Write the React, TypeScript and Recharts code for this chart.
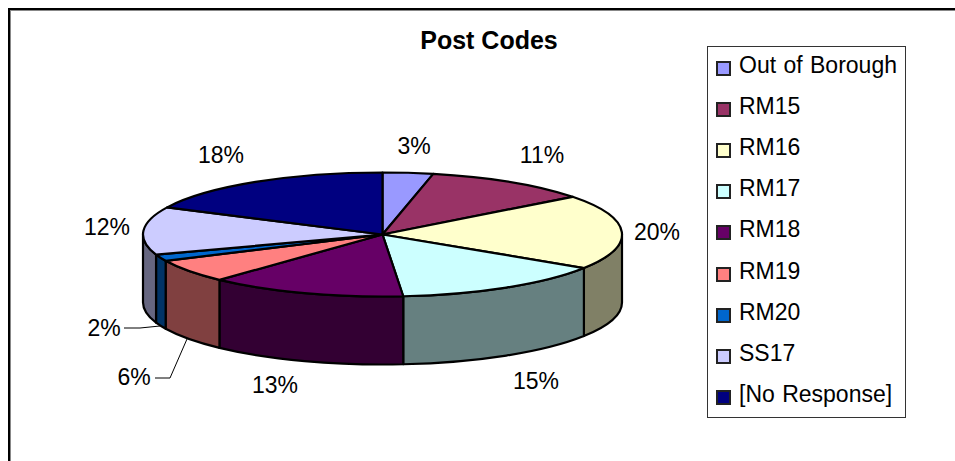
import React from 'react';
import { PieChart, Pie, Legend } from 'recharts';

const names = ['Out of Borough', 'RM15', 'RM16', 'RM17', 'RM18', 'RM19', 'RM20', 'SS17', '[No Response]'];
const values = [3.4, 11.2, 19.5, 14.52, 13.3, 6.1, 1.7, 12.49, 17.79];
const colors = ['#9999FF', '#993366', '#FFFFCC', '#CCFFFF', '#660066', '#FF8080', '#0066CC', '#CCCCFF', '#000080'];

// label anchor points, placed by hand like the original
const labelX = [414, 542, 657, 536, 275, 134, 104, 107, 221];
const labelY = [146, 155, 232, 381, 385, 377, 328, 227, 155];
// leader lines for the two small slices
const leaders: Record<number, string> = {
  5: '155,378 170,378 187,339',
  6: '124,328 140,328 160,326',
};

const FONT = '"Liberation Sans", Arial, sans-serif';
const WIDTH = 955;
const HEIGHT = 461;
const CX = 382.5;
const CY = 234.5;
const RX = 239.5;
const RY = 62;
const DEPTH = 68;
const EDGE = 2.2;

const pieData = names.map((name, i) => ({ name, value: values[i], fill: colors[i] }));
const total = values.reduce((a, b) => a + b, 0);

const project = (cx: number, cy: number, rx: number, deg: number) => {
  const a = (deg * Math.PI) / 180;
  return { x: cx + rx * Math.cos(a), y: cy - (rx * RY / RX) * Math.sin(a) };
};

const halve = (hex: string) => {
  const n = parseInt(hex.slice(1), 16);
  const c = [(n >> 16) & 255, (n >> 8) & 255, n & 255].map((v) => Math.round(v / 2));
  return `rgb(${c[0]},${c[1]},${c[2]})`;
};

// flat top face of a slice, squashed to an ellipse
const TopSlice = (props: any) => {
  const { cx, cy, outerRadius, startAngle, endAngle, fill } = props;
  const p1 = project(cx, cy, outerRadius, startAngle);
  const p2 = project(cx, cy, outerRadius, endAngle);
  const ry = (outerRadius * RY) / RX;
  const large = Math.abs(startAngle - endAngle) > 180 ? 1 : 0;
  const d = `M${cx},${cy} L${p1.x},${p1.y} A${outerRadius},${ry} 0 ${large} 1 ${p2.x},${p2.y} Z`;
  return <path d={d} fill={fill} stroke="#000" strokeWidth={EDGE} strokeLinejoin="round" />;
};

// side wall, only the part of the slice facing the viewer (angles 0 to -180)
const WallSlice = (props: any) => {
  const { cx, cy, outerRadius, startAngle, endAngle, fill } = props;
  const a1 = Math.min(startAngle, 0);
  const a2 = Math.max(endAngle, -180);
  if (a1 <= a2) return <g />;
  const p1 = project(cx, cy, outerRadius, a1);
  const p2 = project(cx, cy, outerRadius, a2);
  const ry = (outerRadius * RY) / RX;
  const d =
    `M${p1.x},${p1.y} A${outerRadius},${ry} 0 0 1 ${p2.x},${p2.y} ` +
    `L${p2.x},${p2.y + DEPTH} A${outerRadius},${ry} 0 0 0 ${p1.x},${p1.y + DEPTH} Z`;
  return <path d={d} fill={halve(fill)} stroke="#000" strokeWidth={EDGE} strokeLinejoin="round" />;
};

const renderLabel = (props: any) => {
  const i = props.index;
  return (
    <g>
      {leaders[i] && <polyline points={leaders[i]} fill="none" stroke="#000" strokeWidth={1} />}
      <text
        x={labelX[i]}
        y={labelY[i]}
        textAnchor="middle"
        dominantBaseline="central"
        fontFamily={FONT}
        fontSize={23}
        fill="#000"
      >
        {`${Math.round((props.value / total) * 100)}%`}
      </text>
    </g>
  );
};

const LegendBox = ({ payload }: any) => {
  // both Pie series report their items, keep one of each
  const items = (payload || []).filter((p: any, i: number, all: any[]) => all.findIndex((q) => q.value === p.value) === i);
  return (
    <div style={{ width: 197, height: 370, border: '1px solid #333', background: '#fff', position: 'relative' }}>
      {items.map((item: any, i: number) => (
        <div key={item.value} style={{ position: 'absolute', left: 8, top: 14 + i * 41.2, height: 14, display: 'flex', alignItems: 'center' }}>
          <span style={{ width: 11, height: 11, background: item.color, border: '2px solid #222', display: 'inline-block' }} />
          <span style={{ marginLeft: 8, position: 'relative', top: -3, fontFamily: FONT, fontSize: 23, wordSpacing: 1, color: '#000', whiteSpace: 'nowrap' }}>{item.value}</span>
        </div>
      ))}
    </div>
  );
};

export default function App() {
  return (
    <div style={{ position: 'absolute', left: 0, top: 0, width: WIDTH, height: HEIGHT, overflow: 'hidden', background: '#fff' }}>
      <div style={{ position: 'absolute', left: 8, top: 8, width: WIDTH, height: HEIGHT, borderLeft: '2px solid #000', borderTop: '2px solid #000', boxShadow: 'inset 1px 1px 0 #888' }} />
      <PieChart width={WIDTH} height={HEIGHT} margin={{ top: 0, right: 0, bottom: 0, left: 0 }} style={{ position: 'absolute', left: 0, top: 0 }}>
        <text x={489} y={40} textAnchor="middle" dominantBaseline="central" fontFamily={FONT} fontWeight="bold" fontSize={25} fill="#000">
          Post Codes
        </text>
        <Pie
          data={pieData}
          dataKey="value"
          nameKey="name"
          cx={CX}
          cy={CY}
          outerRadius={RX}
          startAngle={90}
          endAngle={-270}
          shape={WallSlice}
          legendType="none"
          isAnimationActive={false}
        />
        <Pie
          data={pieData}
          dataKey="value"
          nameKey="name"
          cx={CX}
          cy={CY}
          outerRadius={RX}
          startAngle={90}
          endAngle={-270}
          shape={TopSlice}
          label={renderLabel}
          labelLine={false}
          isAnimationActive={false}
        />
        <Legend content={LegendBox} wrapperStyle={{ left: 707, top: 46, width: 199, height: 372 }} />
      </PieChart>
    </div>
  );
}
